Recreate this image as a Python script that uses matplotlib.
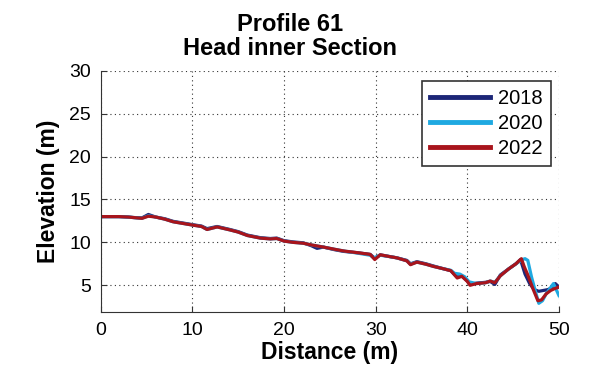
import matplotlib.pyplot as plt

# profile data (distance m, elevation m)
x_2018 = [0, 1, 2, 3, 3.5, 4.5, 5.2, 6, 7, 7.9, 9, 10.1, 11, 11.6, 12.7, 13.5, 14.1, 15, 16, 17.4,
          18.5, 19.2, 20, 21, 22.1, 23, 23.6, 24.3, 25.5, 26.5, 28, 29.4, 29.9, 30.5, 31.5, 32.3,
          33.4, 33.8, 34.5, 35.5, 36.3, 37.3, 38.2, 38.9, 39.4, 40, 40.3, 41, 42, 42.5, 43, 43.6,
          44.5, 45.3, 45.8, 46.3, 46.8, 47.3, 47.8, 48.3, 48.8, 49.2, 49.6, 50]
y_2018 = [13.0, 13.0, 13.0, 12.95, 12.9, 12.85, 13.25, 12.95, 12.75, 12.45, 12.25, 12.05, 11.9, 11.6,
          11.85, 11.65, 11.5, 11.25, 10.85, 10.55, 10.45, 10.5, 10.2, 10.05, 9.95, 9.6, 9.3, 9.45,
          9.15, 8.95, 8.8, 8.6, 8.15, 8.55, 8.35, 8.2, 7.9, 7.5, 7.75, 7.5, 7.25, 6.95, 6.7, 5.95,
          6.1, 5.5, 5.1, 5.25, 5.35, 5.45, 5.1, 6.2, 6.9, 7.5, 8.0, 6.3, 5.2, 4.5, 4.3, 4.4, 4.5,
          4.7, 5.2, 4.8]

x_2020 = [0, 1, 2, 3, 3.5, 4.5, 5.2, 6, 7, 7.9, 9, 10.1, 11, 11.6, 12.7, 13.5, 14.1, 15, 16, 17.4,
          18.5, 19.2, 20, 21, 22.1, 23, 24.3, 25.5, 26.5, 28, 29.4, 29.8, 30.5, 31.5, 32.3,
          33.4, 33.8, 34.5, 35.5, 36.3, 37.3, 38.2, 38.6, 39.2, 39.7, 40.2, 41, 42, 42.5, 43, 43.6,
          44.5, 45.3, 46.0, 46.3, 46.6, 47.0, 47.3, 47.8, 48.2, 48.6, 49.0, 49.4, 50]
y_2020 = [13.0, 13.0, 13.0, 12.95, 12.9, 12.8, 13.1, 12.95, 12.7, 12.4, 12.2, 12.0, 11.85, 11.5,
          11.8, 11.6, 11.45, 11.2, 10.8, 10.5, 10.4, 10.45, 10.15, 10.0, 9.9, 9.7, 9.45, 9.2, 9.0,
          8.75, 8.5, 8.2, 8.5, 8.35, 8.2, 7.85, 7.45, 7.7, 7.45, 7.2, 6.95, 6.75, 6.4, 6.3, 6.0,
          5.4, 5.2, 5.3, 5.5, 5.35, 6.1, 6.9, 7.5, 8.0, 8.1, 7.9, 6.0, 4.8, 2.9, 3.2, 4.0, 4.6,
          5.2, 3.8]

x_2022 = [0, 1, 2, 3, 3.5, 4.5, 5.2, 6, 7, 7.9, 9, 10.1, 11, 11.6, 12.7, 13.5, 14.1, 15, 16, 17.4,
          18.5, 19.2, 20, 21, 22.1, 23, 24.3, 25.5, 26.5, 28, 29.4, 29.9, 30.5, 31.5, 32.3,
          33.4, 33.8, 34.5, 35.5, 36.3, 37.3, 38.2, 38.9, 39.4, 40, 40.3, 41, 42, 42.5, 43, 43.6,
          44.5, 45.3, 45.9, 46.2, 46.6, 47.2, 47.7, 48.1, 48.6, 49.1, 49.5, 50]
y_2022 = [13.0, 13.0, 13.0, 12.95, 12.9, 12.8, 13.05, 12.95, 12.7, 12.4, 12.2, 12.0, 11.85, 11.5,
          11.8, 11.6, 11.45, 11.2, 10.8, 10.5, 10.4, 10.45, 10.15, 10.0, 9.9, 9.7, 9.45, 9.2, 9.0,
          8.8, 8.6, 8.0, 8.55, 8.35, 8.2, 7.85, 7.4, 7.7, 7.45, 7.2, 6.95, 6.7, 5.85, 6.05, 5.45,
          5.0, 5.2, 5.3, 5.5, 5.3, 6.1, 6.9, 7.5, 8.1, 7.2, 6.2, 4.5, 3.2, 3.3, 4.0, 4.4, 4.6, 4.8]

labels = ['2018', '2020', '2022']
colors = ['#1c2677', '#1fa9e1', '#a8141c']

plt.rcParams['font.family'] = ['Liberation Sans', 'DejaVu Sans']

fig = plt.figure(figsize=(5.89, 3.70), dpi=100)
ax = fig.add_axes([0.171, 0.157, 0.778, 0.652])

ax.plot(x_2018, y_2018, color=colors[0], lw=2.3, label=labels[0])
ax.plot(x_2020, y_2020, color=colors[1], lw=2.3, label=labels[1])
ax.plot(x_2022, y_2022, color=colors[2], lw=2.3, label=labels[2])

ax.set_xlim(0, 50)
ax.set_ylim(1.9, 30)
ax.set_xticks([0, 10, 20, 30, 40, 50])
ax.set_yticks([5, 10, 15, 20, 25, 30])
ax.grid(True, linestyle=(0, (1, 3)), color='#333333', lw=0.8)
ax.spines['top'].set_visible(False)
ax.spines['right'].set_visible(False)
for s in ['left', 'bottom']:
    ax.spines[s].set_color('#333333')
ax.tick_params(direction='in', length=4, labelsize=14, color='#333333', pad=7)

ax.set_xlabel('Distance (m)', fontsize=16.5, fontweight='bold', labelpad=2)
ax.set_ylabel('Elevation (m)', fontsize=16.5, fontweight='bold', labelpad=7)

fig.text(0.492, 0.935, 'Profile 61', ha='center', va='center', fontsize=17, fontweight='bold')
fig.text(0.492, 0.868, 'Head inner Section', ha='center', va='center', fontsize=17, fontweight='bold')

leg = ax.legend(loc='upper right', bbox_to_anchor=(0.983, 0.957), fontsize=14.5,
                handlelength=3.0, fancybox=False, framealpha=1, borderaxespad=0,
                labelspacing=0.3, handletextpad=0.4, borderpad=0.4)
leg.get_frame().set_edgecolor('#333333')
leg.get_frame().set_linewidth(1.2)
for line in leg.get_lines():
    line.set_linewidth(3.5)

fig.savefig('out.png', dpi=100)
